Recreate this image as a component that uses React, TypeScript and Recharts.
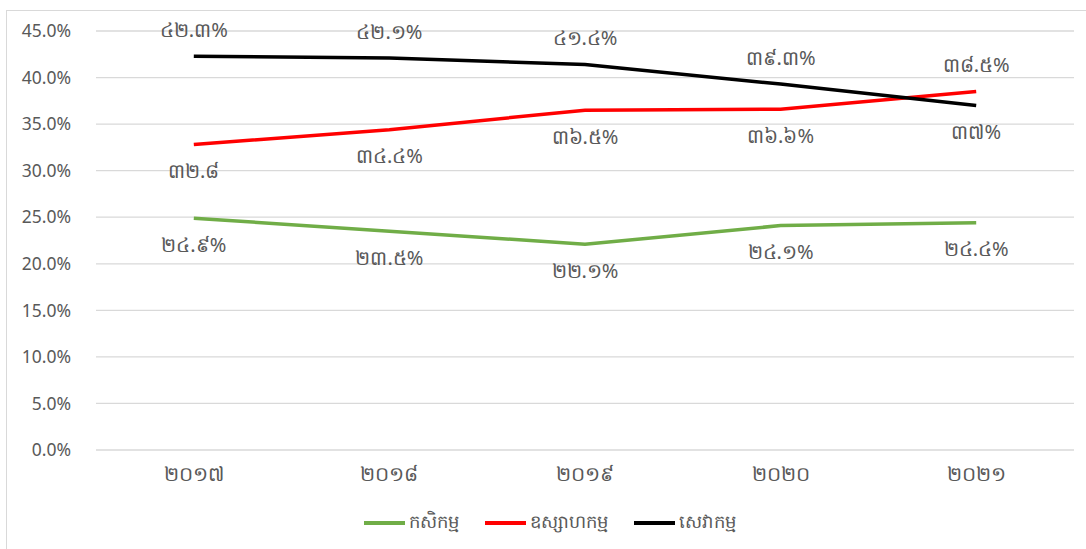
import * as React from "react";
import { LineChart, Line, XAxis, YAxis, CartesianGrid, LabelList } from "recharts";

// ឆ្នាំ (ខ្មែរ)
const ឆ្នាំ = ["២០១៧", "២០១៨", "២០១៩", "២០២០", "២០២១"];

// ចំណែក (%) តាមវិស័យ
const កសិកម្ម = [24.9, 23.5, 22.1, 24.1, 24.4];
const ឧស្សាហកម្ម = [32.8, 34.4, 36.5, 36.6, 38.5];
const សេវាកម្ម = [42.3, 42.1, 41.4, 39.3, 37.0];

// ស្លាកទិន្នន័យ ដូចក្នុងរូបដើម
const ស្លាកកសិកម្ម = ["២៤.៩%", "២៣.៥%", "២២.១%", "២៤.១%", "២៤.៤%"];
const ស្លាកឧស្សាហកម្ម = ["៣២.៨", "៣៤.៤%", "៣៦.៥%", "៣៦.៦%", "៣៨.៥%"];
const ស្លាកសេវាកម្ម = ["៤២.៣%", "៤២.១%", "៤១.៤%", "៣៩.៣%", "៣៧%"];

const yTicks = [0, 5, 10, 15, 20, 25, 30, 35, 40, 45];

const COR_VERDE = "#70AD47";
const COR_VERMELHO = "#FF0000";
const COR_PRETO = "#000000";
const COR_GRADE = "#D9D9D9";
const COR_TEXTO = "#595959";
const FONTE = "'Noto Sans', 'DejaVu Sans', sans-serif";

const dados = ឆ្នាំ.map((ano, i) => ({
  ano,
  agri: កសិកម្ម[i],
  indu: ឧស្សាហកម្ម[i],
  serv: សេវាកម្ម[i],
  lAgri: ស្លាកកសិកម្ម[i],
  lIndu: ស្លាកឧស្សាហកម្ម[i],
  lServ: ស្លាកសេវាកម្ម[i],
}));

// rótulo centrado no ponto, acima ou abaixo conforme a série/índice
function rotulo(acima: (i: number) => boolean) {
  return (props: any) => {
    const { x, y, value, index } = props;
    const dy = acima(index) ? -27 : 26;
    return (
      <text
        x={x}
        y={y + dy}
        textAnchor="middle"
        dominantBaseline="central"
        fontSize={20}
        fill={COR_TEXTO}
        fontFamily={FONTE}
      >
        {value}
      </text>
    );
  };
}

function ItemLegenda({ cor, texto }: { cor: string; texto: string }) {
  return (
    <span style={{ display: "inline-flex", alignItems: "center", marginRight: 26 }}>
      <span style={{ display: "inline-block", width: 41, height: 3.5, background: cor, marginRight: 4 }} />
      <span style={{ fontSize: 18, color: COR_TEXTO }}>{texto}</span>
    </span>
  );
}

export default function App() {
  const ult = ឆ្នាំ.length - 1;
  return (
    <div
      style={{
        position: "absolute",
        left: 0,
        top: 0,
        width: 1086,
        height: 549,
        background: "#fff",
        overflow: "hidden",
        fontFamily: FONTE,
      }}
    >
      <div
        style={{
          position: "absolute",
          left: 6,
          top: 10,
          width: 1200,
          height: 600,
          borderTop: "1px solid #D9D9D9",
          borderLeft: "1px solid #D9D9D9",
        }}
      />
      <div style={{ position: "absolute", left: 0, top: 0 }}>
        <LineChart width={1086} height={549} data={dados} margin={{ top: 31, right: 12, bottom: 54, left: 10 }}>
          <CartesianGrid stroke={COR_GRADE} strokeWidth={1.3} vertical={false} />
          <XAxis
            dataKey="ano"
            scale="band"
            axisLine={false}
            tickLine={false}
            tickSize={0}
            tickMargin={17}
            height={45}
            tick={{ fontSize: 20, fill: COR_TEXTO, fontFamily: FONTE }}
          />
          <YAxis
            domain={[0, 45]}
            ticks={yTicks}
            width={86}
            axisLine={false}
            tickLine={false}
            tickSize={0}
            tickMargin={25}
            tickFormatter={(v: number) => `${v.toFixed(1)}%`}
            tick={{ fontSize: 17.5, fill: COR_TEXTO, fontFamily: FONTE }}
          />
          <Line dataKey="agri" stroke={COR_VERDE} strokeWidth={3.5} dot={false} isAnimationActive={false}>
            <LabelList dataKey="lAgri" content={rotulo(() => false)} />
          </Line>
          <Line dataKey="indu" stroke={COR_VERMELHO} strokeWidth={3.5} dot={false} isAnimationActive={false}>
            <LabelList dataKey="lIndu" content={rotulo((i) => i === ult)} />
          </Line>
          <Line dataKey="serv" stroke={COR_PRETO} strokeWidth={3.5} dot={false} isAnimationActive={false}>
            <LabelList dataKey="lServ" content={rotulo((i) => i !== ult)} />
          </Line>
        </LineChart>
      </div>
      <div
        style={{
          position: "absolute",
          left: 364,
          top: 509,
          whiteSpace: "nowrap",
          display: "flex",
          alignItems: "center",
        }}
      >
        <ItemLegenda cor={COR_VERDE} texto="កសិកម្ម" />
        <ItemLegenda cor={COR_VERMELHO} texto="ឧស្សាហកម្ម" />
        <ItemLegenda cor={COR_PRETO} texto="សេវាកម្ម" />
      </div>
    </div>
  );
}
